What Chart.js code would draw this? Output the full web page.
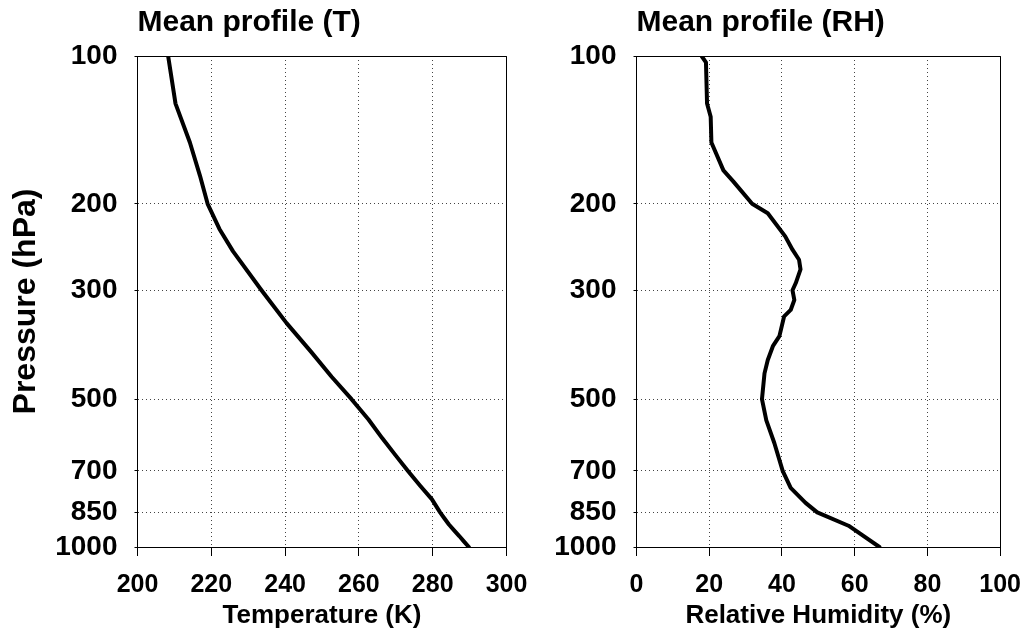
<!DOCTYPE html>
<html>
<head>
<meta charset="utf-8">
<script src="https://cdn.jsdelivr.net/npm/chart.js@4.4.1/dist/chart.umd.min.js"></script>
<style>
  html, body { margin: 0; padding: 0; background: #fff; }
  #wrap { position: relative; width: 1035px; height: 634px; }
  #wrap canvas { position: absolute; left: 0; top: 0; }
</style>
</head>
<body>
<div id="wrap">
  <canvas id="tChart" width="1035" height="634"></canvas>
  <canvas id="rhChart" width="1035" height="634"></canvas>
</div>
<script>
// Pressure levels labelled on both vertical axes (hPa)
const pressureTicks = [100, 200, 300, 500, 700, 850, 1000];

// Mean temperature profile
const tPressure = [100, 125, 150, 175, 200, 225, 250, 300, 350, 400, 450, 500, 550,
                   600, 650, 700, 750, 800, 850, 875, 900, 925, 950, 975, 1000];
const tValues   = [208.3, 210.3, 214.2, 216.9, 219.0, 222.2, 225.9, 233.6, 240.4, 247.0, 252.6, 258.0, 262.6,
                   266.3, 269.9, 273.3, 276.6, 279.8, 282.0, 283.2, 284.4, 285.8, 287.2, 288.5, 289.8];

// Mean relative humidity profile
const rhPressure = [100, 103, 125, 133, 150, 171, 180, 200, 209, 233, 248, 260, 272, 290, 300,
                    314, 329, 339, 372, 390, 416, 443, 500, 552, 614, 700, 758, 813, 850, 905, 1000];
const rhValues   = [17.9, 19.1, 19.4, 20.4, 20.6, 23.9, 26.6, 31.8, 36.1, 40.9, 42.9, 44.7, 45.1, 43.8, 42.9,
                    43.4, 42.4, 40.6, 39.3, 37.5, 36.1, 35.2, 34.5, 35.7, 37.9, 40.2, 42.4, 46.5, 49.7, 58.3, 66.8];

Chart.defaults.font.family = "'Liberation Sans', Arial, Helvetica, sans-serif";
Chart.defaults.color = '#000';

const toPoints = (xs, ps) => xs.map((x, i) => ({ x: x, y: ps[i] }));

// Solid top and right edges of the plotting box
const boxFrame = {
  id: 'boxFrame',
  beforeDatasetsDraw(chart) {
    const { ctx, chartArea: a } = chart;
    const px = v => Math.floor(v) + 0.5;
    ctx.save();
    ctx.strokeStyle = '#000';
    ctx.lineWidth = 1;
    ctx.beginPath();
    ctx.moveTo(px(a.left), px(a.top));
    ctx.lineTo(px(a.right), px(a.top));
    ctx.lineTo(px(a.right), px(a.bottom));
    ctx.stroke();
    ctx.restore();
  }
};

function pressureAxis(axisWidth, withTitle) {
  return {
    type: 'logarithmic',
    position: 'left',
    reverse: true,
    min: 100,
    max: 1000,
    afterBuildTicks: s => { s.ticks = pressureTicks.map(v => ({ value: v })); },
    afterFit: s => { s.width = axisWidth; },
    ticks: {
      autoSkip: false,
      callback: v => String(v),
      font: { size: 28, weight: 'bold' },
      color: '#000',
      padding: 17
    },
    grid: { color: '#444', lineWidth: 1, tickLength: 3, tickColor: '#000', tickWidth: 1 },
    border: { display: true, color: '#000', width: 1, dash: [1, 3] },
    title: {
      display: withTitle,
      text: 'Pressure (hPa)',
      font: { size: 32, weight: 'bold' },
      color: '#000',
      padding: { top: 7, bottom: 0 }
    }
  };
}

function valueAxis(min, max, step, label) {
  return {
    type: 'linear',
    position: 'bottom',
    min: min,
    max: max,
    afterFit: s => { s.height = 87; },
    ticks: {
      stepSize: step,
      autoSkip: false,
      maxRotation: 0,
      font: { size: 25, weight: 'bold' },
      color: '#000',
      padding: 14
    },
    grid: { color: '#444', lineWidth: 1, tickLength: 9, tickColor: '#000', tickWidth: 1 },
    border: { display: true, color: '#000', width: 1, dash: [1, 3] },
    title: {
      display: true,
      text: label,
      font: { size: 26, weight: 'bold' },
      color: '#000',
      padding: { top: 0, bottom: 3 }
    }
  };
}

function profileChart(id, title, points, xAxis, yAxis, padding) {
  return new Chart(document.getElementById(id), {
    type: 'scatter',
    data: {
      datasets: [{
        data: points,
        showLine: true,
        borderColor: '#000',
        borderWidth: 4,
        borderJoinStyle: 'round',
        borderCapStyle: 'round',
        pointRadius: 0,
        pointHoverRadius: 0,
        tension: 0,
        fill: false
      }]
    },
    options: {
      responsive: false,
      animation: false,
      devicePixelRatio: 1,
      layout: { padding: padding },
      scales: { x: xAxis, y: yAxis },
      plugins: {
        legend: { display: false },
        tooltip: { enabled: false },
        title: {
          display: true,
          text: title,
          align: 'start',
          fullSize: false,
          color: '#000',
          font: { size: 30, weight: 'bold' },
          padding: { top: 5, bottom: 15 }
        }
      }
    },
    plugins: [boxFrame]
  });
}

profileChart('tChart', 'Mean profile (T)',
  toPoints(tValues, tPressure),
  valueAxis(200, 300, 20, 'Temperature (K)'),
  pressureAxis(137.5, true),
  { left: 0, top: 0, right: 528.5, bottom: 0 });

profileChart('rhChart', 'Mean profile (RH)',
  toPoints(rhValues, rhPressure),
  valueAxis(0, 100, 20, 'Relative Humidity (%)'),
  pressureAxis(119.5, false),
  { left: 517, top: 0, right: 29.5, bottom: 0 });
</script>
</body>
</html>
